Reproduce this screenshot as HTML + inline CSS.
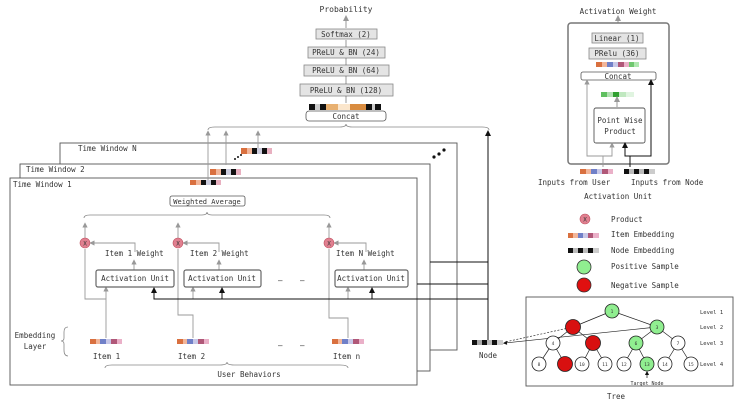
<!DOCTYPE html>
<html><head><meta charset="utf-8"><style>
html,body{margin:0;padding:0;background:#fff;}
svg{display:block;}
text{font-family:"DejaVu Sans Mono","Liberation Mono",monospace;fill:#333;}
</style></head><body>
<svg width="740" height="406" viewBox="0 0 740 406" xmlns="http://www.w3.org/2000/svg">
<defs>
<marker id="ag" markerWidth="6" markerHeight="6" refX="3" refY="3" orient="auto"><path d="M0,0 L6,3 L0,6 z" fill="#999"/></marker>
<marker id="ab" markerWidth="6" markerHeight="6" refX="3" refY="3" orient="auto"><path d="M0,0 L6,3 L0,6 z" fill="#111"/></marker>
</defs>
<!-- top stack -->
<text x="346" y="12" font-size="8" text-anchor="middle">Probability</text>
<line x1="346" y1="28" x2="346" y2="18" stroke="#999" marker-end="url(#ag)"/>
<g fill="#e4e4e4" stroke="#888" stroke-width="0.8">
<rect x="316" y="29" width="61" height="10"/>
<rect x="308" y="47" width="77" height="11"/>
<rect x="304" y="65" width="85" height="11"/>
<rect x="300" y="84" width="93" height="12"/>
</g>
<g font-size="7.5" text-anchor="middle">
<text x="346" y="37">Softmax (2)</text>
<text x="346" y="55">PReLU &amp; BN (24)</text>
<text x="346" y="73">PReLU &amp; BN (64)</text>
<text x="346" y="93">PReLU &amp; BN (128)</text>
</g>
<g stroke="#555" stroke-width="0.6"><line x1="346" y1="47" x2="346" y2="40"/><line x1="346" y1="65" x2="346" y2="58"/><line x1="346" y1="84" x2="346" y2="76"/><line x1="346" y1="103" x2="346" y2="96"/></g>
<g>
<rect x="309" y="104" width="6" height="6" fill="#111"/><rect x="315" y="104" width="5" height="6" fill="#ccc"/><rect x="320" y="104" width="6" height="6" fill="#111"/><rect x="326" y="104" width="12" height="6" fill="#e8b070"/><rect x="338" y="104" width="12" height="6" fill="#fbe6cc"/><rect x="350" y="104" width="16" height="6" fill="#d98c40"/><rect x="366" y="104" width="6" height="6" fill="#111"/><rect x="372" y="104" width="3" height="6" fill="#ccc"/><rect x="375" y="104" width="6" height="6" fill="#111"/>
</g>
<rect x="306" y="111" width="80" height="10" rx="3" fill="#fff" stroke="#555" stroke-width="0.8"/>
<text x="346" y="119" font-size="7.5" text-anchor="middle">Concat</text>
<path d="M208,130 Q208,127 215,127 L340,127 Q346,127 346,124 Q346,127 352,127 L482,127 Q489,127 489,130" fill="none" stroke="#888" stroke-width="0.8"/>
<!-- windows -->
<g fill="#fff" stroke="#555" stroke-width="0.9">
<rect x="60" y="143" width="397" height="207"/>
<rect x="20" y="164" width="410" height="207"/>
<rect x="10" y="178" width="407" height="207"/>
</g>
<g font-size="7.5"><text x="78" y="151">Time Window N</text><text x="26" y="172">Time Window 2</text><text x="13" y="187">Time Window 1</text></g>
<!-- window outputs -->
<g stroke="#999" stroke-width="0.9">
<line x1="208" y1="180" x2="208" y2="133" marker-end="url(#ag)"/>
<line x1="226" y1="165" x2="226" y2="133" marker-end="url(#ag)"/>
<line x1="258" y1="148" x2="258" y2="133" marker-end="url(#ag)"/>
</g>
<g>
<rect x="190" y="180" width="6" height="5" fill="#d9703f"/><rect x="196" y="180" width="5" height="5" fill="#f2b69a"/><rect x="201" y="180" width="5" height="5" fill="#111"/><rect x="206" y="180" width="5" height="5" fill="#ccd"/><rect x="211" y="180" width="5" height="5" fill="#111"/><rect x="216" y="180" width="5" height="5" fill="#e8b0c0"/>
<rect x="210" y="169" width="6" height="6" fill="#d9703f"/><rect x="216" y="169" width="5" height="6" fill="#f2b69a"/><rect x="221" y="169" width="5" height="6" fill="#111"/><rect x="226" y="169" width="5" height="6" fill="#ccd"/><rect x="231" y="169" width="5" height="6" fill="#111"/><rect x="236" y="169" width="5" height="6" fill="#e8b0c0"/>
<rect x="241" y="148" width="6" height="6" fill="#d9703f"/><rect x="247" y="148" width="5" height="6" fill="#f2b69a"/><rect x="252" y="148" width="5" height="6" fill="#111"/><rect x="257" y="148" width="5" height="6" fill="#ccd"/><rect x="262" y="148" width="5" height="6" fill="#111"/><rect x="267" y="148" width="5" height="6" fill="#e8b0c0"/>
</g>
<g fill="#111"><circle cx="235" cy="159" r="1"/><circle cx="238" cy="157" r="1"/><circle cx="241" cy="155" r="1"/>
<circle cx="434" cy="157" r="1.6"/><circle cx="439" cy="154" r="1.6"/><circle cx="444" cy="150" r="1.6"/></g>
<!-- weighted average -->
<rect x="170" y="196" width="75" height="10" rx="2" fill="#fff" stroke="#555" stroke-width="0.8"/>
<text x="207" y="204" font-size="7" text-anchor="middle">Weighted Average</text>
<path d="M84,218 Q84,215 90,215 L202,215 Q207,215 207,212 Q207,215 212,215 L324,215 Q330,215 330,218" fill="none" stroke="#888" stroke-width="0.8"/>
<!-- item columns -->
<g stroke="#999" stroke-width="0.9" fill="none">
<line x1="85" y1="238" x2="85" y2="225" marker-end="url(#ag)"/>
<line x1="178" y1="238" x2="178" y2="225" marker-end="url(#ag)"/>
<line x1="329" y1="238" x2="329" y2="225" marker-end="url(#ag)"/>
<polyline points="135,252 135,243 92,243" marker-end="url(#ag)"/>
<polyline points="219,252 219,243 185,243" marker-end="url(#ag)"/>
<polyline points="366,252 366,243 336,243" marker-end="url(#ag)"/>
<line x1="134" y1="270" x2="134" y2="262" marker-end="url(#ag)"/>
<line x1="219" y1="270" x2="219" y2="262" marker-end="url(#ag)"/>
<line x1="364" y1="270" x2="364" y2="262" marker-end="url(#ag)"/>
<polyline points="106,338 106,299 85,299 85,249"/>
<line x1="106" y1="299" x2="106" y2="289" marker-end="url(#ag)"/>
<polyline points="193,338 193,315 178,315 178,249"/>
<line x1="193" y1="299" x2="193" y2="289" marker-end="url(#ag)"/>
<polyline points="348,338 348,318 329,318 329,249"/>
<line x1="348" y1="299" x2="348" y2="289" marker-end="url(#ag)"/>
</g>
<g fill="#e08090" stroke="#c05060" stroke-width="0.6">
<circle cx="85" cy="243" r="5"/><circle cx="178" cy="243" r="5"/><circle cx="329" cy="243" r="5"/></g>
<g font-size="6" text-anchor="middle" fill="#600"><text x="85" y="245.5">X</text><text x="178" y="245.5">X</text><text x="329" y="245.5">X</text></g>
<g font-size="7.5"><text x="105" y="256">Item 1 Weight</text><text x="190" y="256">Item 2 Weight</text><text x="336" y="256">Item N Weight</text></g>
<g fill="#fff" stroke="#666" stroke-width="1.2">
<rect x="96" y="270" width="78" height="17" rx="2"/><rect x="184" y="270" width="77" height="17" rx="2"/><rect x="335" y="270" width="73" height="17" rx="2"/></g>
<g font-size="7.5" text-anchor="middle"><text x="135" y="281">Activation Unit</text><text x="222" y="281">Activation Unit</text><text x="371" y="281">Activation Unit</text></g>
<g font-size="7.5"><text x="278" y="283">–</text><text x="300" y="283">–</text><text x="278" y="348">–</text><text x="300" y="348">–</text></g>
<!-- node lines -->
<g stroke="#111" stroke-width="1" fill="none">
<polyline points="154,289 154,299 488,299"/>
<line x1="154" y1="299" x2="154" y2="290" marker-end="url(#ab)"/>
<line x1="222" y1="299" x2="222" y2="290" marker-end="url(#ab)"/>
<line x1="372" y1="299" x2="372" y2="290" marker-end="url(#ab)"/>
<line x1="417" y1="284" x2="488" y2="284"/>
<line x1="430" y1="262" x2="488" y2="262"/>
<line x1="488" y1="341" x2="488" y2="133" marker-end="url(#ab)"/>
</g>
<!-- embeddings -->
<g id="emb">
<rect x="90" y="339" width="6" height="5" fill="#d9703f"/><rect x="96" y="339" width="4" height="5" fill="#f2b69a"/><rect x="100" y="339" width="6" height="5" fill="#7080c8"/><rect x="106" y="339" width="5" height="5" fill="#c8c8e8"/><rect x="111" y="339" width="6" height="5" fill="#b05878"/><rect x="117" y="339" width="5" height="5" fill="#eab0c8"/>
</g>
<use href="#emb" x="87"/><use href="#emb" x="242"/>
<g font-size="7.5"><text x="93" y="359">Item 1</text><text x="178" y="359">Item 2</text><text x="333" y="359">Item n</text></g>
<path d="M105,368 Q105,365 112,365 L220,365 Q227,365 227,362 Q227,365 234,365 L340,365 Q348,365 348,368" fill="none" stroke="#888" stroke-width="0.8"/>
<text x="249" y="377" font-size="7.5" text-anchor="middle">User Behaviors</text>
<g font-size="7.5" text-anchor="middle"><text x="35" y="338">Embedding</text><text x="35" y="349">Layer</text></g>
<path d="M68,327 Q64,327 64,332 L64,338 Q64,341 61,341 Q64,341 64,344 L64,350 Q64,356 68,356" fill="none" stroke="#888" stroke-width="0.8"/>
<!-- node -->
<rect x="472" y="340" width="5" height="5" fill="#111"/><rect x="477" y="340" width="5" height="5" fill="#aaa"/><rect x="482" y="340" width="5" height="5" fill="#111"/><rect x="487" y="340" width="5" height="5" fill="#bbb"/><rect x="492" y="340" width="5" height="5" fill="#111"/><rect x="497" y="340" width="6" height="5" fill="#ccc"/>
<text x="488" y="358" font-size="7.5" text-anchor="middle">Node</text>
<!-- activation unit panel -->
<text x="618" y="14" font-size="7.5" text-anchor="middle">Activation Weight</text>
<line x1="618" y1="33" x2="618" y2="18" stroke="#999" marker-end="url(#ag)"/>
<rect x="568" y="23" width="101" height="141" rx="3" fill="#fff" stroke="#777" stroke-width="1.5"/>
<rect x="592" y="33" width="51" height="10" fill="#e4e4e4" stroke="#888" stroke-width="0.8"/>
<rect x="589" y="48" width="57" height="11" fill="#e4e4e4" stroke="#888" stroke-width="0.8"/>
<g font-size="7.5" text-anchor="middle"><text x="617" y="41">Linear (1)</text><text x="617" y="56">PRelu (36)</text></g>
<g><rect x="596" y="62" width="6" height="5" fill="#d9703f"/><rect x="602" y="62" width="5" height="5" fill="#f2b69a"/><rect x="607" y="62" width="6" height="5" fill="#7080c8"/><rect x="613" y="62" width="5" height="5" fill="#c8c8e8"/><rect x="618" y="62" width="6" height="5" fill="#b05878"/><rect x="624" y="62" width="5" height="5" fill="#eab0c8"/><rect x="629" y="62" width="5" height="5" fill="#70c870"/><rect x="634" y="62" width="5" height="5" fill="#b0e8b0"/></g>
<rect x="581" y="72" width="75" height="8" rx="2" fill="#fff" stroke="#555" stroke-width="0.8"/>
<text x="618" y="79" font-size="7.5" text-anchor="middle">Concat</text>
<g><rect x="601" y="92" width="6" height="5" fill="#60c060"/><rect x="607" y="92" width="6" height="5" fill="#b0e0b0"/><rect x="613" y="92" width="6" height="5" fill="#30a030"/><rect x="619" y="92" width="7" height="5" fill="#c0e8c0"/><rect x="626" y="92" width="8" height="5" fill="#e0f4e0"/></g>
<line x1="617" y1="107" x2="617" y2="99" stroke="#999" marker-end="url(#ag)"/>
<rect x="594" y="108" width="51" height="35" rx="2" fill="#fff" stroke="#555" stroke-width="0.9"/>
<g font-size="7.5" text-anchor="middle"><text x="620" y="123">Point Wise</text><text x="620" y="134">Product</text></g>
<g stroke="#999" stroke-width="0.9" fill="none">
<polyline points="603,167 603,156 587,156 587,82" marker-end="url(#ag)"/>
<polyline points="603,156 612,156 612,145" marker-end="url(#ag)"/>
</g>
<g stroke="#111" stroke-width="1" fill="none">
<polyline points="630,167 630,156 651,156 651,82" marker-end="url(#ab)"/>
<polyline points="630,156 625,156 625,145" marker-end="url(#ab)"/>
</g>
<g><rect x="580" y="169" width="6" height="5" fill="#d9703f"/><rect x="586" y="169" width="5" height="5" fill="#f2b69a"/><rect x="591" y="169" width="6" height="5" fill="#7080c8"/><rect x="597" y="169" width="5" height="5" fill="#c8c8e8"/><rect x="602" y="169" width="6" height="5" fill="#b05878"/><rect x="608" y="169" width="5" height="5" fill="#eab0c8"/>
<rect x="624" y="169" width="5" height="5" fill="#111"/><rect x="629" y="169" width="5" height="5" fill="#bbb"/><rect x="634" y="169" width="5" height="5" fill="#111"/><rect x="639" y="169" width="5" height="5" fill="#bbb"/><rect x="644" y="169" width="5" height="5" fill="#111"/><rect x="649" y="169" width="6" height="5" fill="#ccc"/></g>
<g font-size="7.5"><text x="538" y="185">Inputs from User</text><text x="631" y="185">Inputs from Node</text></g>
<text x="618" y="199" font-size="7.5" text-anchor="middle">Activation Unit</text>
<!-- legend -->
<circle cx="585" cy="219" r="5" fill="#e08090" stroke="#c05060" stroke-width="0.6"/><text x="585" y="221.5" font-size="6" text-anchor="middle" fill="#600">X</text>
<g font-size="7.5"><text x="611" y="222">Product</text><text x="611" y="237">Item Embedding</text><text x="611" y="253">Node Embedding</text><text x="611" y="269">Positive Sample</text><text x="611" y="288">Negative Sample</text></g>
<g><rect x="568" y="233" width="5" height="5" fill="#d9703f"/><rect x="573" y="233" width="5" height="5" fill="#f2b69a"/><rect x="578" y="233" width="5" height="5" fill="#7080c8"/><rect x="583" y="233" width="5" height="5" fill="#c8c8e8"/><rect x="588" y="233" width="5" height="5" fill="#b05878"/><rect x="593" y="233" width="6" height="5" fill="#eab0c8"/>
<rect x="568" y="248" width="5" height="5" fill="#111"/><rect x="573" y="248" width="5" height="5" fill="#bbb"/><rect x="578" y="248" width="5" height="5" fill="#111"/><rect x="583" y="248" width="5" height="5" fill="#bbb"/><rect x="588" y="248" width="5" height="5" fill="#111"/><rect x="593" y="248" width="6" height="5" fill="#ccc"/></g>
<circle cx="584" cy="267" r="7" fill="#90ee90" stroke="#333" stroke-width="0.8"/>
<circle cx="584" cy="285" r="7" fill="#e01010" stroke="#333" stroke-width="0.8"/>
<!-- tree -->
<rect x="526" y="297" width="207" height="89" fill="#fff" stroke="#555" stroke-width="0.9"/>
<g stroke="#222" stroke-width="0.7">
<line x1="612" y1="311" x2="573" y2="327"/><line x1="612" y1="311" x2="657" y2="327"/>
<line x1="573" y1="327" x2="553" y2="343"/><line x1="573" y1="327" x2="593" y2="343"/>
<line x1="657" y1="327" x2="636" y2="343"/><line x1="657" y1="327" x2="678" y2="343"/>
<line x1="553" y1="343" x2="539" y2="364"/><line x1="553" y1="343" x2="565" y2="364"/>
<line x1="593" y1="343" x2="582" y2="364"/><line x1="593" y1="343" x2="605" y2="364"/>
<line x1="636" y1="343" x2="624" y2="364"/><line x1="636" y1="343" x2="647" y2="364"/>
<line x1="678" y1="343" x2="665" y2="364"/><line x1="678" y1="343" x2="691" y2="364"/>
<line x1="657" y1="327" x2="505" y2="343" marker-end="url(#ab)"/>
</g>
<line x1="573" y1="327" x2="505" y2="342" stroke="#333" stroke-width="0.7" stroke-dasharray="2,1.5"/>
<g stroke="#222" stroke-width="0.8">
<circle cx="612" cy="311" r="7" fill="#90ee90"/><circle cx="573" cy="327" r="7.5" fill="#d81010"/><circle cx="657" cy="327" r="7" fill="#90ee90"/>
<circle cx="553" cy="343" r="7" fill="#fff"/><circle cx="593" cy="343" r="7.5" fill="#d81010"/><circle cx="636" cy="343" r="7" fill="#90ee90"/><circle cx="678" cy="343" r="7" fill="#fff"/>
<circle cx="539" cy="364" r="7" fill="#fff"/><circle cx="565" cy="364" r="7.5" fill="#d81010"/><circle cx="582" cy="364" r="7" fill="#fff"/><circle cx="605" cy="364" r="7" fill="#fff"/><circle cx="624" cy="364" r="7" fill="#fff"/><circle cx="647" cy="364" r="7" fill="#90ee90"/><circle cx="665" cy="364" r="7" fill="#fff"/><circle cx="691" cy="364" r="7" fill="#fff"/>
</g>
<g font-size="4.5" text-anchor="middle"><text x="612" y="313">1</text><text x="657" y="329">3</text><text x="553" y="345">4</text><text x="636" y="345">6</text><text x="678" y="345">7</text><text x="539" y="366">8</text><text x="582" y="366">10</text><text x="605" y="366">11</text><text x="624" y="366">12</text><text x="647" y="366">13</text><text x="665" y="366">14</text><text x="691" y="366">15</text></g>
<g font-size="5.5"><text x="700" y="314">Level 1</text><text x="700" y="329">Level 2</text><text x="700" y="345">Level 3</text><text x="700" y="366">Level 4</text></g>
<line x1="647" y1="378" x2="647" y2="373" stroke="#111" stroke-width="0.7" marker-end="url(#ab)"/>
<text x="647" y="385" font-size="5" text-anchor="middle">Target Node</text>
<text x="616" y="399" font-size="7.5" text-anchor="middle">Tree</text>
</svg>
</body></html>
